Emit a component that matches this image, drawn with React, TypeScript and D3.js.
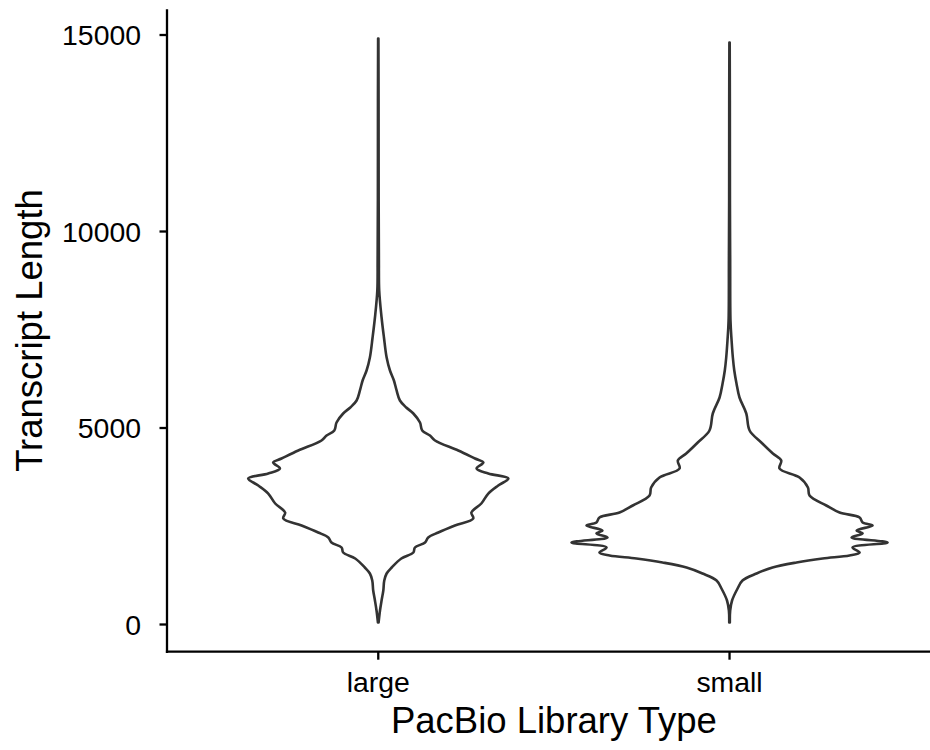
import React from 'react';
import * as d3 from 'd3';

// categories on the x axis
const libraryTypes = ['large', 'small'];

// violin outline: transcript length and relative density (max = 1)
const largeLength = [51, 356, 611, 865, 1120, 1298, 1450, 1679, 1832, 1959, 2087, 2214, 2341, 2519, 2697, 2850, 3079, 3333, 3537, 3715, 3842, 3969, 4122, 4224, 4427, 4682, 4809, 4936, 5140, 5369, 5522, 5700, 5955, 6209, 6463, 6794, 7303, 7812, 8499, 9262, 10789, 13333, 14911];
const largeDensity = [0.002, 0.011, 0.021, 0.032, 0.038, 0.053, 0.085, 0.146, 0.222, 0.232, 0.296, 0.316, 0.38, 0.485, 0.601, 0.589, 0.652, 0.696, 0.759, 0.823, 0.696, 0.622, 0.665, 0.612, 0.506, 0.359, 0.327, 0.278, 0.264, 0.222, 0.177, 0.137, 0.116, 0.099, 0.074, 0.053, 0.036, 0.021, 0.006, 0.004, 0.0025, 0.002, 0.001];

const smallLength = [51, 356, 611, 916, 1120, 1298, 1450, 1578, 1679, 1756, 1832, 1959, 2087, 2214, 2316, 2392, 2519, 2595, 2723, 2850, 3028, 3282, 3486, 3740, 3969, 4173, 4351, 4631, 4936, 5369, 5776, 6132, 6463, 6794, 7226, 7735, 9262, 10789, 13333, 14809];
const smallDensity = [0.002, 0.004, 0.016, 0.051, 0.082, 0.171, 0.272, 0.424, 0.589, 0.759, 0.823, 0.778, 1.0, 0.772, 0.842, 0.804, 0.905, 0.842, 0.823, 0.696, 0.612, 0.506, 0.496, 0.443, 0.316, 0.327, 0.274, 0.201, 0.127, 0.106, 0.063, 0.044, 0.03, 0.021, 0.013, 0.006, 0.004, 0.0025, 0.002, 0.001];

const yTicks = [0, 5000, 10000, 15000];

const violins = [
	{ type: 'large', length: largeLength, density: largeDensity },
	{ type: 'small', length: smallLength, density: smallDensity },
];

const FONT = "'Liberation Sans', Arial, Helvetica, sans-serif";

const App = () => {
	const svgWidth = 930;
	const svgHeight = 750;
	const panel = { left: 167.5, right: 940.3, top: 9.3, bottom: 651.7 };

	// ggplot style 5% expansion of the data range
	const allLengths = [...largeLength, ...smallLength];
	const lo = d3.min(allLengths);
	const hi = d3.max(allLengths);
	const pad = (hi - lo) * 0.05;

	const yScale = d3
		.scaleLinear()
		.domain([lo - pad, hi + pad])
		.range([panel.bottom, panel.top]);

	const xScale = d3
		.scalePoint()
		.domain(libraryTypes)
		.range([panel.left, panel.right])
		.padding(0.6);

	const step = xScale.step();
	const maxDensity = d3.max([...largeDensity, ...smallDensity]);
	const wScale = d3
		.scaleLinear()
		.domain([0, maxDensity])
		.range([0, step * 0.45]);

	return (
		<svg
			width={svgWidth}
			height={svgHeight}
			style={{ position: 'absolute', left: 0, top: 0, background: 'white' }}
		>
			<rect width={svgWidth} height={svgHeight} fill='white' />

			{/* violins */}
			<g className='violins'>
				{violins.map((v) => {
					const cx = xScale(v.type);
					const pts = v.length.map((len, i) => ({ len, d: v.density[i] }));
					const area = d3
						.area()
						.y((p) => yScale(p.len))
						.x0((p) => cx - wScale(p.d))
						.x1((p) => cx + wScale(p.d))
						.curve(d3.curveCatmullRom);
					return (
						<path
							key={v.type}
							d={area(pts)}
							fill='white'
							stroke='#333333'
							strokeWidth={2.6}
							strokeLinejoin='round'
						/>
					);
				})}
			</g>

			{/* y axis */}
			<g className='axis-left'>
				<line
					x1={panel.left - 0.5}
					x2={panel.left - 0.5}
					y1={panel.top}
					y2={panel.bottom + 1.2}
					stroke='black'
					strokeWidth={2.3}
				/>
				{yTicks.map((t) => (
					<g key={t} transform={`translate(0, ${yScale(t)})`}>
						<line x1={panel.left - 8} x2={panel.left - 0.5} stroke='black' strokeWidth={2.3} />
						<text
							x={141}
							dy='0.36em'
							textAnchor='end'
							fontFamily={FONT}
							fontSize={28.4}
							fill='black'
						>
							{t}
						</text>
					</g>
				))}
			</g>

			{/* x axis */}
			<g className='axis-bottom'>
				<line
					x1={panel.left - 1.6}
					x2={svgWidth}
					y1={panel.bottom}
					y2={panel.bottom}
					stroke='black'
					strokeWidth={2.3}
				/>
				{libraryTypes.map((c) => (
					<g key={c} transform={`translate(${xScale(c)}, 0)`}>
						<line y1={panel.bottom} y2={panel.bottom + 8} stroke='black' strokeWidth={2.3} />
						<text
							y={692}
							textAnchor='middle'
							fontFamily={FONT}
							fontSize={28.4}
							fill='black'
						>
							{c}
						</text>
					</g>
				))}
			</g>

			{/* axis titles */}
			<text
				x={(panel.left + panel.right) / 2}
				y={733}
				textAnchor='middle'
				fontFamily={FONT}
				fontSize={36.5}
				fill='black'
			>
				PacBio Library Type
			</text>
			<text
				transform={`translate(42, ${(panel.top + panel.bottom) / 2}) rotate(-90)`}
				textAnchor='middle'
				fontFamily={FONT}
				fontSize={36.5}
				fill='black'
			>
				Transcript Length
			</text>
		</svg>
	);
};

export default App;
